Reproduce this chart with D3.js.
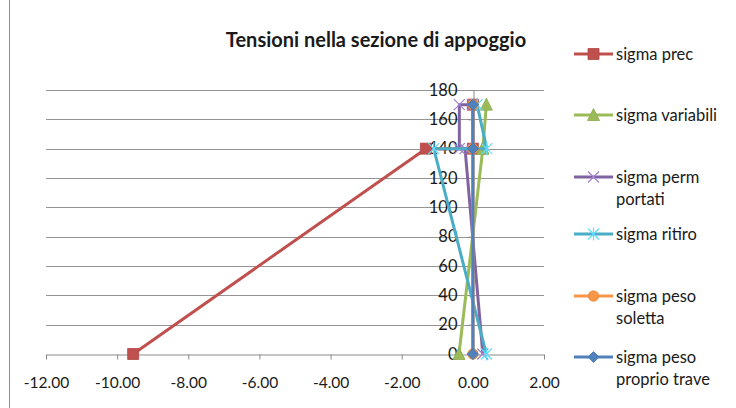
<!DOCTYPE html>
<html>
<head>
<meta charset="utf-8">
<script src="https://cdn.jsdelivr.net/npm/d3@7/dist/d3.min.js"></script>
<style>
  html, body { margin: 0; padding: 0; background: #fff; }
  svg { display: block; }
  text { font-family: Lato, "Open Sans", sans-serif; fill: #1a1a1a; }
</style>
</head>
<body>
<svg id="chart" width="736" height="408"></svg>
<script>
// Section heights (beam 0-140, slab 140-170) and stresses per load case
const seriesNames = [
  "sigma prec", "sigma variabili", "sigma perm portati",
  "sigma ritiro", "sigma peso soletta", "sigma peso proprio trave"
];
const heightsPrec      = [0, 140, 140, 170];
const stressPrec       = [-9.55, -1.32, 0, 0];
const heightsVariabili = [0, 140, 140, 170];
const stressVariabili  = [-0.39, 0.28, 0.28, 0.38];
const heightsPerm      = [0, 140, 140, 170, 170];
const stressPerm       = [0.28, -0.22, -0.38, -0.38, 0];
const heightsRitiro    = [0, 140, 140, 170];
const stressRitiro     = [0.38, -1.10, 0.39, 0.12];
const heightsSoletta   = [0, 140, 140, 170];
const stressSoletta    = [0, 0, 0, 0];
const heightsTrave     = [0, 140, 140, 170];
const stressTrave      = [0, 0, 0, 0];

const xTicks = [-12, -10, -8, -6, -4, -2, 0, 2];
const yTicks = [0, 20, 40, 60, 80, 100, 120, 140, 160, 180];
const titleText = "Tensioni nella sezione di appoggio";

const colors  = ["#C0504D", "#9BBB59", "#8064A2", "#4BACC6", "#F79646", "#4F81BD"];
const markers = ["square", "triangle", "x", "asterisk", "circle", "diamond"];
const legendLines = [["sigma prec"], ["sigma variabili"], ["sigma perm", "portati"],
                     ["sigma ritiro"], ["sigma peso", "soletta"], ["sigma peso", "proprio trave"]];
const legendY = [54, 115, 177, 234, 296, 357];

const seriesData = [
  [stressPrec, heightsPrec], [stressVariabili, heightsVariabili], [stressPerm, heightsPerm],
  [stressRitiro, heightsRitiro], [stressSoletta, heightsSoletta], [stressTrave, heightsTrave]
].map(([xs, ys], i) => ({
  name: seriesNames[i],
  points: xs.map((v, k) => ({ x: v, y: ys[k] }))
}));

const svg = d3.select("#chart");

const x = d3.scaleLinear().domain([-12, 2]).range([46, 544]);
const y = d3.scaleLinear().domain([0, 180]).range([354, 90]);

// outer frame edge
svg.append("line").attr("x1", 9.5).attr("x2", 9.5).attr("y1", 0).attr("y2", 408)
  .attr("stroke", "#8c8c8c").attr("stroke-width", 1);

// title
svg.append("text").attr("x", 376).attr("y", 47).attr("text-anchor", "middle")
  .style("font-size", "20px").style("font-weight", "bold").text(titleText);

// horizontal gridlines
svg.append("g").selectAll("line").data(yTicks.filter(t => t !== 0)).join("line")
  .attr("x1", x(-12)).attr("x2", x(2))
  .attr("y1", d => Math.round(y(d)) + 0.5).attr("y2", d => Math.round(y(d)) + 0.5)
  .attr("stroke", "#949494").attr("stroke-width", 1);

// x axis along y = 0
const fmt = d3.format(".2f");
const xAxis = d3.axisBottom(x).tickValues(xTicks).tickSize(5).tickPadding(17)
  .tickSizeOuter(0).tickFormat(d => fmt(d).replace("\u2212", "-"));
const gx = svg.append("g").attr("transform", `translate(0,${Math.round(y(0)) + 0.5})`).call(xAxis);
gx.select(".domain").attr("stroke", "#8a8a8a");
gx.selectAll(".tick line").attr("stroke", "#8a8a8a");
gx.selectAll(".tick text").style("font-size", "15.5px").style("fill", "#1a1a1a")
  .style("font-family", "Lato, sans-serif");

// y axis crossing at x = 0
const yAxis = d3.axisLeft(y).tickValues(yTicks).tickSize(5).tickPadding(11).tickSizeOuter(0);
const gy = svg.append("g").attr("transform", `translate(${Math.round(x(0)) + 0.5},0)`).call(yAxis);
gy.select(".domain").attr("stroke", "#8a8a8a");
gy.selectAll(".tick line").attr("stroke", "#8a8a8a");
gy.selectAll(".tick text").style("font-size", "16.5px").style("fill", "#1a1a1a")
  .style("font-family", "Lato, sans-serif");

// marker shapes
function markerPath(type) {
  const s = 5.5;
  switch (type) {
    case "square":   return `M${-s},${-s}H${s}V${s}H${-s}Z`;
    case "triangle": return `M0,${-s - 1}L${s + 0.5},${s}L${-s - 0.5},${s}Z`;
    case "diamond":  return `M0,${-s}L${s},0L0,${s}L${-s},0Z`;
    case "circle":   return d3.symbol(d3.symbolCircle, 85)();
    case "x":        return `M${-s},${-s}L${s},${s}M${s},${-s}L${-s},${s}`;
    case "asterisk": return `M${-s},${-s}L${s},${s}M${s},${-s}L${-s},${s}M0,${-s - 1}V${s + 1}`;
  }
}
function drawMarker(g, type, color, cx, cy) {
  const stroked = type === "x" || type === "asterisk";
  g.append("path").attr("d", markerPath(type))
    .attr("transform", `translate(${cx},${cy})`)
    .attr("fill", stroked ? "none" : color)
    .attr("stroke", stroked ? d3.color(color).brighter(0.7) : d3.color(color).darker(0.3))
    .attr("stroke-width", stroked ? 1.2 : 0.8);
}

const line = d3.line().x(d => x(d.x)).y(d => y(d.y));

// series lines and markers
seriesData.forEach((s, i) => {
  const g = svg.append("g");
  g.append("path").datum(s.points).attr("d", line)
    .attr("fill", "none").attr("stroke", colors[i]).attr("stroke-width", 3)
    .attr("stroke-linejoin", "round");
  s.points.forEach(p => drawMarker(g, markers[i], colors[i], x(p.x), y(p.y)));
});

// legend
const lg = svg.append("g");
seriesData.forEach((s, i) => {
  const cy = legendY[i];
  lg.append("line").attr("x1", 574).attr("x2", 613).attr("y1", cy).attr("y2", cy)
    .attr("stroke", colors[i]).attr("stroke-width", 3);
  drawMarker(lg, markers[i], colors[i], 593.5, cy);
  legendLines[i].forEach((t, k) => {
    lg.append("text").attr("x", 616).attr("y", cy + 5.5 + k * 22)
      .style("font-size", "16.5px").text(t);
  });
});
</script>
</body>
</html>
